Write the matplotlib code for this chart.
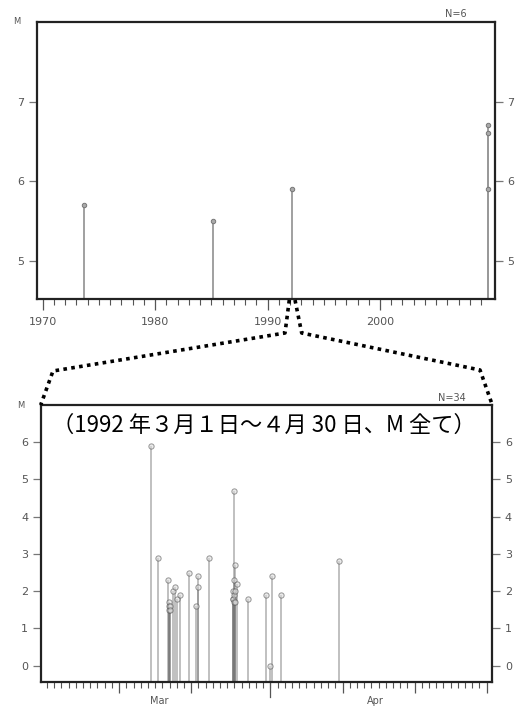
import numpy as np
import pandas as pd
import matplotlib
matplotlib.use("Agg")
import matplotlib.pyplot as plt
from matplotlib.lines import Line2D

# 1970年以降（上段）
nen = [1973.67, 1985.17, 1992.20, 2009.64, 2009.64, 2009.64]
mag_nen = [5.7, 5.5, 5.9, 6.7, 6.6, 5.9]

# 1992年3月1日～4月30日（下段）
jikoku = [
    "1992-03-15 10:30", "1992-03-16 09:00", "1992-03-17 20:20", "1992-03-17 22:35",
    "1992-03-17 23:00", "1992-03-17 23:45", "1992-03-18 00:20", "1992-03-18 00:45",
    "1992-03-18 13:00", "1992-03-18 18:40", "1992-03-19 00:15", "1992-03-19 11:15",
    "1992-03-20 17:15", "1992-03-21 16:30", "1992-03-21 22:10", "1992-03-21 22:40",
    "1992-03-23 12:00", "1992-03-26 17:45", "1992-03-26 18:55", "1992-03-26 19:55",
    "1992-03-26 21:05", "1992-03-26 21:30", "1992-03-26 22:00", "1992-03-26 23:15",
    "1992-03-27 00:30", "1992-03-27 02:35", "1992-03-27 02:40", "1992-03-27 08:25",
    "1992-03-28 21:05", "1992-03-31 07:40", "1992-03-31 21:05", "1992-04-01 05:00",
    "1992-04-02 11:00", "1992-04-10 11:00",
]
mag_hi = [
    5.9, 2.9, 2.3, 1.7,
    1.5, 1.6, 1.6, 1.5,
    2.0, 2.1, 1.8, 1.9,
    2.5, 1.6, 2.4, 2.1,
    2.9, 1.8, 2.0, 1.8,
    4.7, 2.3, 1.9, 1.7,
    1.7, 2.7, 2.0, 2.2,
    1.8, 1.9, 0.0, 2.4,
    1.9, 2.8,
]

kaishi = pd.Timestamp("1992-03-01")
hi = (pd.to_datetime(jikoku) - kaishi) / pd.Timedelta(days=1)
tsuki_kugiri = [(pd.Timestamp(d) - kaishi).days for d in
                ["1992-03-01", "1992-03-11", "1992-03-21", "1992-04-01",
                 "1992-04-11", "1992-04-21", "1992-05-01"]]

gray = "#555555"
plt.rcParams["font.family"] = ["DejaVu Sans"]

fig = plt.figure(figsize=(5.23, 7.07), dpi=100)
W, H = 523, 707

def px_axes(l, t, r, b):
    return fig.add_axes([l / W, 1 - b / H, (r - l) / W, (b - t) / H])

ax1 = px_axes(37, 22, 495, 299)
ax2 = px_axes(40.7, 405, 492.3, 682)

for ax in (ax1, ax2):
    for s in ax.spines.values():
        s.set_linewidth(1.6)
        s.set_color("#222222")
    ax.tick_params(axis="y", which="both", left=True, right=True,
                   labelleft=True, labelright=True, direction="out",
                   length=6, width=0.9, color="#777777", labelsize=8,
                   labelcolor=gray, pad=3)
    ax.tick_params(axis="x", which="major", direction="out", length=8,
                   width=0.9, color=gray, labelsize=8, labelcolor=gray, pad=5)
    ax.tick_params(axis="x", which="minor", direction="out", length=4,
                   width=0.8, color=gray)

# 上段
y1_min = 4.52
ax1.vlines(nen, y1_min, mag_nen, color="#999999", lw=1.3, zorder=2)
ax1.plot(nen, mag_nen, "o", ms=3.2, mfc="#aaaaaa", mec="#777777", mew=0.7, zorder=3)
ax1.set_xlim(1969.49, 2010.23)
ax1.set_ylim(y1_min, 8.0)
ax1.set_xticks([1970, 1980, 1990, 2000])
ax1.set_xticks(np.arange(1970, 2010), minor=True)
ax1.set_yticks([5, 6, 7])
ax1.text(-0.045, 1.0, "M", transform=ax1.transAxes, fontsize=6, color=gray,
         ha="center", va="center")
ax1.text(0.915, 1.012, "N=6", transform=ax1.transAxes, fontsize=7, color=gray,
         ha="center", va="bottom")

# 下段
y2_min = -0.44
ax2.vlines(hi, y2_min, mag_hi, color="#777777", lw=1.3, alpha=0.5, zorder=2)
ax2.plot(hi, mag_hi, "o", ms=3.8, mfc="#dddddd", mec="#555555", mew=0.7,
         alpha=0.6, zorder=3)
ax2.set_xlim(-0.88, 61.78)
ax2.set_ylim(y2_min, 7.0)
ax2.set_xticks([d for d in tsuki_kugiri if d not in (0, 31)])
ax2.set_xticks(np.arange(0, 62), minor=True)
ax2.set_xticklabels([])
ax2.set_yticks(range(0, 7))
ax2.axvline(31, ymin=-0.055, ymax=0, color=gray, lw=0.9, clip_on=False)
for x, lab in [(15.5, "Mar"), (45.5, "Apr")]:
    ax2.text(x, -0.07, lab, transform=ax2.get_xaxis_transform(), fontsize=7,
             color=gray, ha="center", va="center")
ax2.text(-0.045, 1.0, "M", transform=ax2.transAxes, fontsize=6, color=gray,
         ha="center", va="center")
ax2.text(0.91, 1.008, "N=34", transform=ax2.transAxes, fontsize=7, color=gray,
         ha="center", va="bottom")
ax2.text(0.494, 0.928, "（1992 年３月１日～４月 30 日、M 全て）",
         transform=ax2.transAxes, fontsize=16,
         family=["Noto Sans CJK JP", "DejaVu Sans"], ha="center", va="center")

# 拡大を示す点線
hidari = [(289.3, 300), (285, 333), (53, 371), (40.7, 405)]
migi = [(295, 300), (301.7, 333), (480, 370), (492.3, 405)]
for pts in (hidari, migi):
    xs = [p[0] / W for p in pts]
    ys = [1 - p[1] / H for p in pts]
    fig.add_artist(Line2D(xs, ys, transform=fig.transFigure, color="black",
                          lw=2.6, ls=(0, (1, 1.2)), solid_capstyle="butt",
                          dash_capstyle="butt"))

fig.savefig("out.png", dpi=100)
